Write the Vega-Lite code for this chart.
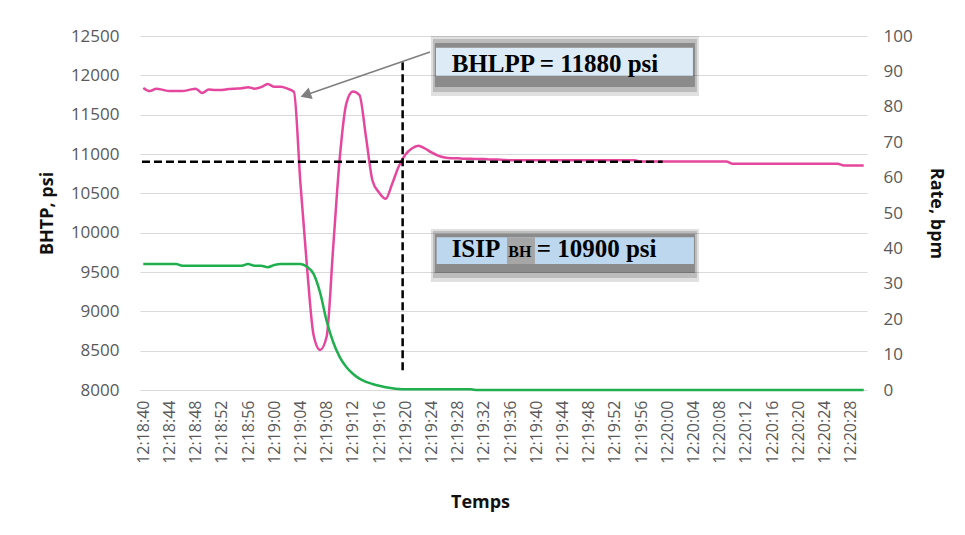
{
  "$schema": "https://vega.github.io/schema/vega-lite/v6.json",
  "width": 727,
  "height": 354,
  "autosize": "none",
  "padding": {"left": 140, "top": 36, "right": 98, "bottom": 145},
  "background": "white",
  "config": {
    "view": {"stroke": null},
    "font": "Open Sans",
    "axisX": {"labelAngle": -90, "labelFontSize": 16, "labelColor": "#595959", "labelFont": "Open Sans", "grid": false, "ticks": false, "domain": false, "labelPadding": 10, "labelOverlap": false, "labelFlush": false, "titleFontSize": 18, "titleFont": "Open Sans", "titleFontWeight": "bold", "titleColor": "#111111", "titlePadding": 30, "titleX": 340},
    "axisLeft": {"labelFontSize": 17, "labelColor": "#595959", "labelFont": "Open Sans", "labelPadding": 21, "ticks": false, "domain": false, "grid": true, "gridColor": "#D9D9D9", "gridWidth": 1, "labelOverlap": false, "titleFontSize": 18, "titleFont": "Open Sans", "titleFontWeight": "bold", "titleColor": "#111111", "titlePadding": 14},
    "axisRight": {"labelFontSize": 17, "labelColor": "#595959", "labelFont": "Open Sans", "labelPadding": 16, "ticks": false, "domain": false, "grid": false, "labelOverlap": false, "titleFontSize": 18, "titleFont": "Open Sans", "titleFontWeight": "bold", "titleColor": "#111111", "titlePadding": 14}
  },
  "datasets": {
    "series": [
      {"time": "2024-01-01T12:18:40", "bhtp": 11840, "rate": 35.6},
      {"time": "2024-01-01T12:18:41", "bhtp": 11800, "rate": 35.6},
      {"time": "2024-01-01T12:18:42", "bhtp": 11830, "rate": 35.6},
      {"time": "2024-01-01T12:18:43", "bhtp": 11815, "rate": 35.6},
      {"time": "2024-01-01T12:18:44", "bhtp": 11800, "rate": 35.6},
      {"time": "2024-01-01T12:18:45", "bhtp": 11800, "rate": 35.6},
      {"time": "2024-01-01T12:18:46", "bhtp": 11800, "rate": 35.1},
      {"time": "2024-01-01T12:18:47", "bhtp": 11815, "rate": 35.1},
      {"time": "2024-01-01T12:18:48", "bhtp": 11830, "rate": 35.1},
      {"time": "2024-01-01T12:18:49", "bhtp": 11775, "rate": 35.1},
      {"time": "2024-01-01T12:18:50", "bhtp": 11820, "rate": 35.1},
      {"time": "2024-01-01T12:18:51", "bhtp": 11815, "rate": 35.1},
      {"time": "2024-01-01T12:18:52", "bhtp": 11815, "rate": 35.1},
      {"time": "2024-01-01T12:18:53", "bhtp": 11825, "rate": 35.1},
      {"time": "2024-01-01T12:18:54", "bhtp": 11830, "rate": 35.1},
      {"time": "2024-01-01T12:18:55", "bhtp": 11835, "rate": 35.1},
      {"time": "2024-01-01T12:18:56", "bhtp": 11850, "rate": 35.6},
      {"time": "2024-01-01T12:18:57", "bhtp": 11830, "rate": 35.1},
      {"time": "2024-01-01T12:18:58", "bhtp": 11850, "rate": 35.1},
      {"time": "2024-01-01T12:18:59", "bhtp": 11890, "rate": 34.7},
      {"time": "2024-01-01T12:19:00", "bhtp": 11855, "rate": 35.3},
      {"time": "2024-01-01T12:19:01", "bhtp": 11855, "rate": 35.6},
      {"time": "2024-01-01T12:19:02", "bhtp": 11830, "rate": 35.6},
      {"time": "2024-01-01T12:19:03", "bhtp": 11790, "rate": 35.6},
      {"time": "2024-01-01T12:19:04", "bhtp": 10620, "rate": 35.6},
      {"time": "2024-01-01T12:19:05", "bhtp": 9560, "rate": 34.8},
      {"time": "2024-01-01T12:19:06", "bhtp": 8700, "rate": 32.8},
      {"time": "2024-01-01T12:19:07", "bhtp": 8510, "rate": 27.5},
      {"time": "2024-01-01T12:19:08", "bhtp": 8680, "rate": 19.5},
      {"time": "2024-01-01T12:19:09", "bhtp": 9820, "rate": 13.5},
      {"time": "2024-01-01T12:19:10", "bhtp": 10950, "rate": 9.3},
      {"time": "2024-01-01T12:19:11", "bhtp": 11640, "rate": 6.5},
      {"time": "2024-01-01T12:19:12", "bhtp": 11795, "rate": 4.6},
      {"time": "2024-01-01T12:19:13", "bhtp": 11750, "rate": 3.2},
      {"time": "2024-01-01T12:19:14", "bhtp": 11220, "rate": 2.3},
      {"time": "2024-01-01T12:19:15", "bhtp": 10660, "rate": 1.7},
      {"time": "2024-01-01T12:19:16", "bhtp": 10510, "rate": 1.2},
      {"time": "2024-01-01T12:19:17", "bhtp": 10430, "rate": 0.8},
      {"time": "2024-01-01T12:19:18", "bhtp": 10620, "rate": 0.5},
      {"time": "2024-01-01T12:19:19", "bhtp": 10840, "rate": 0.3},
      {"time": "2024-01-01T12:19:20", "bhtp": 10990, "rate": 0.2},
      {"time": "2024-01-01T12:19:21", "bhtp": 11070, "rate": 0.2},
      {"time": "2024-01-01T12:19:22", "bhtp": 11105, "rate": 0.2},
      {"time": "2024-01-01T12:19:23", "bhtp": 11070, "rate": 0.2},
      {"time": "2024-01-01T12:19:24", "bhtp": 11020, "rate": 0.2},
      {"time": "2024-01-01T12:19:25", "bhtp": 10980, "rate": 0.2},
      {"time": "2024-01-01T12:19:26", "bhtp": 10955, "rate": 0.2},
      {"time": "2024-01-01T12:19:27", "bhtp": 10945, "rate": 0.2},
      {"time": "2024-01-01T12:19:28", "bhtp": 10945, "rate": 0.2},
      {"time": "2024-01-01T12:19:29", "bhtp": 10940, "rate": 0.2},
      {"time": "2024-01-01T12:19:30", "bhtp": 10940, "rate": 0.2},
      {"time": "2024-01-01T12:19:31", "bhtp": 10935, "rate": 0},
      {"time": "2024-01-01T12:19:32", "bhtp": 10935, "rate": 0},
      {"time": "2024-01-01T12:19:33", "bhtp": 10930, "rate": 0},
      {"time": "2024-01-01T12:19:34", "bhtp": 10930, "rate": 0},
      {"time": "2024-01-01T12:19:35", "bhtp": 10925, "rate": 0},
      {"time": "2024-01-01T12:19:36", "bhtp": 10920, "rate": 0},
      {"time": "2024-01-01T12:19:37", "bhtp": 10920, "rate": 0},
      {"time": "2024-01-01T12:19:38", "bhtp": 10920, "rate": 0},
      {"time": "2024-01-01T12:19:39", "bhtp": 10920, "rate": 0},
      {"time": "2024-01-01T12:19:40", "bhtp": 10920, "rate": 0},
      {"time": "2024-01-01T12:19:41", "bhtp": 10920, "rate": 0},
      {"time": "2024-01-01T12:19:42", "bhtp": 10920, "rate": 0},
      {"time": "2024-01-01T12:19:43", "bhtp": 10920, "rate": 0},
      {"time": "2024-01-01T12:19:44", "bhtp": 10920, "rate": 0},
      {"time": "2024-01-01T12:19:45", "bhtp": 10920, "rate": 0},
      {"time": "2024-01-01T12:19:46", "bhtp": 10920, "rate": 0},
      {"time": "2024-01-01T12:19:47", "bhtp": 10920, "rate": 0},
      {"time": "2024-01-01T12:19:48", "bhtp": 10920, "rate": 0},
      {"time": "2024-01-01T12:19:49", "bhtp": 10920, "rate": 0},
      {"time": "2024-01-01T12:19:50", "bhtp": 10920, "rate": 0},
      {"time": "2024-01-01T12:19:51", "bhtp": 10920, "rate": 0},
      {"time": "2024-01-01T12:19:52", "bhtp": 10920, "rate": 0},
      {"time": "2024-01-01T12:19:53", "bhtp": 10920, "rate": 0},
      {"time": "2024-01-01T12:19:54", "bhtp": 10920, "rate": 0},
      {"time": "2024-01-01T12:19:55", "bhtp": 10920, "rate": 0},
      {"time": "2024-01-01T12:19:56", "bhtp": 10905, "rate": 0},
      {"time": "2024-01-01T12:19:57", "bhtp": 10905, "rate": 0},
      {"time": "2024-01-01T12:19:58", "bhtp": 10905, "rate": 0},
      {"time": "2024-01-01T12:19:59", "bhtp": 10905, "rate": 0},
      {"time": "2024-01-01T12:20:00", "bhtp": 10905, "rate": 0},
      {"time": "2024-01-01T12:20:01", "bhtp": 10905, "rate": 0},
      {"time": "2024-01-01T12:20:02", "bhtp": 10905, "rate": 0},
      {"time": "2024-01-01T12:20:03", "bhtp": 10905, "rate": 0},
      {"time": "2024-01-01T12:20:04", "bhtp": 10905, "rate": 0},
      {"time": "2024-01-01T12:20:05", "bhtp": 10905, "rate": 0},
      {"time": "2024-01-01T12:20:06", "bhtp": 10905, "rate": 0},
      {"time": "2024-01-01T12:20:07", "bhtp": 10905, "rate": 0},
      {"time": "2024-01-01T12:20:08", "bhtp": 10905, "rate": 0},
      {"time": "2024-01-01T12:20:09", "bhtp": 10905, "rate": 0},
      {"time": "2024-01-01T12:20:10", "bhtp": 10875, "rate": 0},
      {"time": "2024-01-01T12:20:11", "bhtp": 10875, "rate": 0},
      {"time": "2024-01-01T12:20:12", "bhtp": 10875, "rate": 0},
      {"time": "2024-01-01T12:20:13", "bhtp": 10875, "rate": 0},
      {"time": "2024-01-01T12:20:14", "bhtp": 10875, "rate": 0},
      {"time": "2024-01-01T12:20:15", "bhtp": 10875, "rate": 0},
      {"time": "2024-01-01T12:20:16", "bhtp": 10875, "rate": 0},
      {"time": "2024-01-01T12:20:17", "bhtp": 10875, "rate": 0},
      {"time": "2024-01-01T12:20:18", "bhtp": 10875, "rate": 0},
      {"time": "2024-01-01T12:20:19", "bhtp": 10875, "rate": 0},
      {"time": "2024-01-01T12:20:20", "bhtp": 10875, "rate": 0},
      {"time": "2024-01-01T12:20:21", "bhtp": 10875, "rate": 0},
      {"time": "2024-01-01T12:20:22", "bhtp": 10875, "rate": 0},
      {"time": "2024-01-01T12:20:23", "bhtp": 10875, "rate": 0},
      {"time": "2024-01-01T12:20:24", "bhtp": 10875, "rate": 0},
      {"time": "2024-01-01T12:20:25", "bhtp": 10875, "rate": 0},
      {"time": "2024-01-01T12:20:26", "bhtp": 10875, "rate": 0},
      {"time": "2024-01-01T12:20:27", "bhtp": 10855, "rate": 0},
      {"time": "2024-01-01T12:20:28", "bhtp": 10855, "rate": 0},
      {"time": "2024-01-01T12:20:29", "bhtp": 10855, "rate": 0},
      {"time": "2024-01-01T12:20:30", "bhtp": 10855, "rate": 0}
    ],
    "ann": [
      {"kind": "dash", "time": "2024-01-01T12:18:39.800", "time2": "2024-01-01T12:19:59.300", "bhtp": 10900, "bhtp2": 10900},
      {"kind": "dash", "time": "2024-01-01T12:19:19.600", "time2": "2024-01-01T12:19:19.600", "bhtp": 8250, "bhtp2": 12180},
      {"kind": "arrow", "time": "2024-01-01T12:19:23.770", "time2": "2024-01-01T12:19:04.790", "bhtp": 12297, "bhtp2": 11750},
      {"kind": "head", "time": "2024-01-01T12:19:04.790", "time2": "2024-01-01T12:19:04.790", "bhtp": 11750, "bhtp2": 11750},
      {"kind": "s1", "time": "2024-01-01T12:19:23.920", "time2": "2024-01-01T12:20:04.840", "bhtp": 12500, "bhtp2": 11737},
      {"kind": "s2", "time": "2024-01-01T12:19:24.230", "time2": "2024-01-01T12:20:04.530", "bhtp": 12462, "bhtp2": 11788},
      {"kind": "s3", "time": "2024-01-01T12:19:24.530", "time2": "2024-01-01T12:20:04.230", "bhtp": 12411, "bhtp2": 11851},
      {"kind": "box1", "time": "2024-01-01T12:19:24.690", "time2": "2024-01-01T12:20:03.920", "bhtp": 12351, "bhtp2": 11995},
      {"kind": "s1", "time": "2024-01-01T12:19:23.920", "time2": "2024-01-01T12:20:04.840", "bhtp": 10047, "bhtp2": 9373},
      {"kind": "s2", "time": "2024-01-01T12:19:24.230", "time2": "2024-01-01T12:20:04.530", "bhtp": 10021, "bhtp2": 9424},
      {"kind": "s3", "time": "2024-01-01T12:19:24.530", "time2": "2024-01-01T12:20:04.230", "bhtp": 9983, "bhtp2": 9487},
      {"kind": "box2", "time": "2024-01-01T12:19:24.790", "time2": "2024-01-01T12:20:04.080", "bhtp": 9941, "bhtp2": 9602},
      {"kind": "patch", "time": "2024-01-01T12:19:35.530", "time2": "2024-01-01T12:19:39.800", "bhtp": 9941, "bhtp2": 9602}
    ],
    "notes": [
      {"kind": "big", "time": "2024-01-01T12:19:27.080", "bhtp": 12046, "label": "BHLPP = 11880 psi"},
      {"kind": "big", "time": "2024-01-01T12:19:27.080", "bhtp": 9687, "label": "ISIP"},
      {"kind": "sub", "time": "2024-01-01T12:19:35.730", "bhtp": 9687, "label": "BH"},
      {"kind": "big", "time": "2024-01-01T12:19:40.060", "bhtp": 9687, "label": "= 10900 psi"}
    ]
  },
  "encoding": {
    "x": {
      "field": "time", "type": "temporal", "title": "Temps",
      "scale": {"domain": [
        {"year": 2024, "month": 1, "date": 1, "hours": 12, "minutes": 18, "seconds": 39, "milliseconds": 500},
        {"year": 2024, "month": 1, "date": 1, "hours": 12, "minutes": 20, "seconds": 30, "milliseconds": 500}
      ]},
      "axis": {"format": "%H:%M:%S", "labelOverlap": false, "labelAngle": -90, "values": [
        {"year": 2024, "month": 1, "date": 1, "hours": 12, "minutes": 18, "seconds": 40},
        {"year": 2024, "month": 1, "date": 1, "hours": 12, "minutes": 18, "seconds": 44},
        {"year": 2024, "month": 1, "date": 1, "hours": 12, "minutes": 18, "seconds": 48},
        {"year": 2024, "month": 1, "date": 1, "hours": 12, "minutes": 18, "seconds": 52},
        {"year": 2024, "month": 1, "date": 1, "hours": 12, "minutes": 18, "seconds": 56},
        {"year": 2024, "month": 1, "date": 1, "hours": 12, "minutes": 19, "seconds": 0},
        {"year": 2024, "month": 1, "date": 1, "hours": 12, "minutes": 19, "seconds": 4},
        {"year": 2024, "month": 1, "date": 1, "hours": 12, "minutes": 19, "seconds": 8},
        {"year": 2024, "month": 1, "date": 1, "hours": 12, "minutes": 19, "seconds": 12},
        {"year": 2024, "month": 1, "date": 1, "hours": 12, "minutes": 19, "seconds": 16},
        {"year": 2024, "month": 1, "date": 1, "hours": 12, "minutes": 19, "seconds": 20},
        {"year": 2024, "month": 1, "date": 1, "hours": 12, "minutes": 19, "seconds": 24},
        {"year": 2024, "month": 1, "date": 1, "hours": 12, "minutes": 19, "seconds": 28},
        {"year": 2024, "month": 1, "date": 1, "hours": 12, "minutes": 19, "seconds": 32},
        {"year": 2024, "month": 1, "date": 1, "hours": 12, "minutes": 19, "seconds": 36},
        {"year": 2024, "month": 1, "date": 1, "hours": 12, "minutes": 19, "seconds": 40},
        {"year": 2024, "month": 1, "date": 1, "hours": 12, "minutes": 19, "seconds": 44},
        {"year": 2024, "month": 1, "date": 1, "hours": 12, "minutes": 19, "seconds": 48},
        {"year": 2024, "month": 1, "date": 1, "hours": 12, "minutes": 19, "seconds": 52},
        {"year": 2024, "month": 1, "date": 1, "hours": 12, "minutes": 19, "seconds": 56},
        {"year": 2024, "month": 1, "date": 1, "hours": 12, "minutes": 20, "seconds": 0},
        {"year": 2024, "month": 1, "date": 1, "hours": 12, "minutes": 20, "seconds": 4},
        {"year": 2024, "month": 1, "date": 1, "hours": 12, "minutes": 20, "seconds": 8},
        {"year": 2024, "month": 1, "date": 1, "hours": 12, "minutes": 20, "seconds": 12},
        {"year": 2024, "month": 1, "date": 1, "hours": 12, "minutes": 20, "seconds": 16},
        {"year": 2024, "month": 1, "date": 1, "hours": 12, "minutes": 20, "seconds": 20},
        {"year": 2024, "month": 1, "date": 1, "hours": 12, "minutes": 20, "seconds": 24},
        {"year": 2024, "month": 1, "date": 1, "hours": 12, "minutes": 20, "seconds": 28}
      ]}
    }
  },
  "layer": [
    {
      "encoding": {
        "y": {
          "field": "bhtp", "type": "quantitative", "title": "BHTP, psi",
          "scale": {"domain": [8000, 12500], "nice": false, "zero": false},
          "axis": {"orient": "left", "format": "d", "labelOverlap": false, "values": [8000, 8500, 9000, 9500, 10000, 10500, 11000, 11500, 12000, 12500]}
        }
      },
      "layer": [
        {
          "data": {"name": "series"},
          "mark": {"type": "line", "color": "#E6479E", "strokeWidth": 2.5, "interpolate": "monotone"}
        },
        {
          "data": {"name": "ann"},
          "transform": [{"filter": "datum.kind === 'dash'"}],
          "mark": {"type": "rule", "color": "#000000", "strokeWidth": 2.5, "strokeDash": [8, 4]},
          "encoding": {"x2": {"field": "time2"}, "y2": {"field": "bhtp2"}}
        },
        {
          "data": {"name": "ann"},
          "transform": [{"filter": "datum.kind === 'arrow'"}],
          "mark": {"type": "rule", "color": "#7F7F7F", "strokeWidth": 1.6},
          "encoding": {"x2": {"field": "time2"}, "y2": {"field": "bhtp2"}}
        },
        {
          "data": {"name": "ann"},
          "transform": [{"filter": "datum.kind === 'head'"}],
          "mark": {"type": "point", "shape": "triangle-left", "filled": true, "color": "#7F7F7F", "opacity": 1, "size": 150, "angle": -19}
        },
        {
          "data": {"name": "ann"},
          "transform": [{"filter": "datum.kind === 's1'"}],
          "mark": {"type": "rect", "color": "#000000", "opacity": 0.12},
          "encoding": {"x2": {"field": "time2"}, "y2": {"field": "bhtp2"}}
        },
        {
          "data": {"name": "ann"},
          "transform": [{"filter": "datum.kind === 's2'"}],
          "mark": {"type": "rect", "color": "#000000", "opacity": 0.16},
          "encoding": {"x2": {"field": "time2"}, "y2": {"field": "bhtp2"}}
        },
        {
          "data": {"name": "ann"},
          "transform": [{"filter": "datum.kind === 's3'"}],
          "mark": {"type": "rect", "color": "#000000", "opacity": 0.26},
          "encoding": {"x2": {"field": "time2"}, "y2": {"field": "bhtp2"}}
        },
        {
          "data": {"name": "ann"},
          "transform": [{"filter": "datum.kind === 'box1'"}],
          "mark": {"type": "rect", "color": "#DDEBF7", "opacity": 1},
          "encoding": {"x2": {"field": "time2"}, "y2": {"field": "bhtp2"}}
        },
        {
          "data": {"name": "ann"},
          "transform": [{"filter": "datum.kind === 'box2'"}],
          "mark": {"type": "rect", "color": "#BDD7EE", "opacity": 1},
          "encoding": {"x2": {"field": "time2"}, "y2": {"field": "bhtp2"}}
        },
        {
          "data": {"name": "ann"},
          "transform": [{"filter": "datum.kind === 'patch'"}],
          "mark": {"type": "rect", "color": "#A6A6A6", "opacity": 1},
          "encoding": {"x2": {"field": "time2"}, "y2": {"field": "bhtp2"}}
        },
        {
          "data": {"name": "notes"},
          "transform": [{"filter": "datum.kind === 'big'"}],
          "mark": {"type": "text", "align": "left", "baseline": "alphabetic", "font": "Liberation Serif", "fontWeight": "bold", "fontSize": 25, "color": "#000000"},
          "encoding": {"text": {"field": "label"}}
        },
        {
          "data": {"name": "notes"},
          "transform": [{"filter": "datum.kind === 'sub'"}],
          "mark": {"type": "text", "align": "left", "baseline": "alphabetic", "font": "Liberation Serif", "fontWeight": "bold", "fontSize": 16, "color": "#000000"},
          "encoding": {"text": {"field": "label"}}
        }
      ]
    },
    {
      "data": {"name": "series"},
      "mark": {"type": "line", "color": "#1FAF4E", "strokeWidth": 2.5, "interpolate": "monotone"},
      "encoding": {
        "y": {
          "field": "rate", "type": "quantitative", "title": "Rate, bpm",
          "scale": {"domain": [0, 100], "nice": false},
          "axis": {"orient": "right", "labelOverlap": false, "values": [0, 10, 20, 30, 40, 50, 60, 70, 80, 90, 100]}
        }
      }
    }
  ],
  "resolve": {"scale": {"y": "independent"}}
}
